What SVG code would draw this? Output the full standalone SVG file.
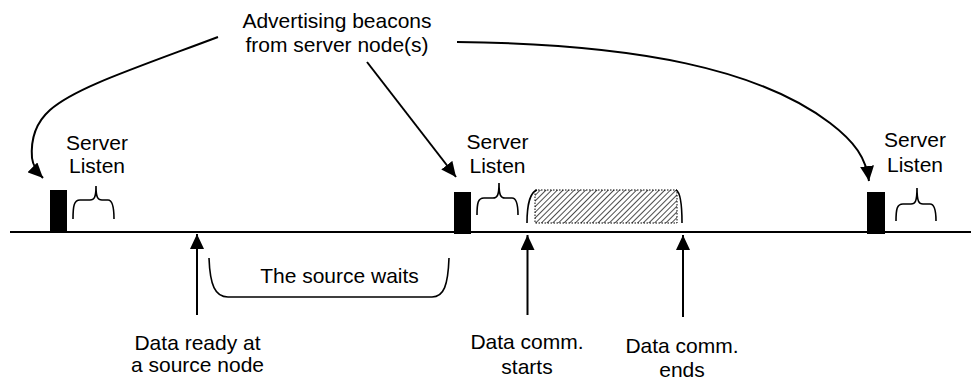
<svg xmlns="http://www.w3.org/2000/svg" width="971" height="380" viewBox="0 0 971 380">
<defs>
<marker id="ah" viewBox="0 0 15 14" refX="15" refY="7" markerWidth="15" markerHeight="14" markerUnits="userSpaceOnUse" orient="auto">
<path d="M0,0 L15,7 L0,14 Z" fill="#000"/>
</marker>
<pattern id="hatch" width="4" height="4" patternUnits="userSpaceOnUse" patternTransform="rotate(45)">
<line x1="0" y1="-1" x2="0" y2="5" stroke="#000" stroke-width="1.4"/>
</pattern>
</defs>
<style>
text{font-family:"Liberation Sans",Arial,sans-serif;font-size:21px;fill:#000;text-anchor:middle}
.conn{fill:none;stroke:#000;stroke-width:2}
.brace{fill:none;stroke:#000;stroke-width:1.6}
.block{fill:#000}
</style>
<rect width="971" height="380" fill="#fff"/>
<g id="timeline"><line x1="10" y1="232" x2="971" y2="232" stroke="#000" stroke-width="2.2"/></g>
<g id="beacon-label"><text x="337" y="28">Advertising beacons</text><text x="337" y="52">from server node(s)</text></g>
<g id="server1">
<rect class="block" x="50" y="190" width="17" height="42"/>
<path class="brace" d="M73,219 C73,206 74,200 80,200 L90,200 C94,200 96,198 96,186 C96,198 98,200 102,200 L108,200 C112,200 114,206 114,219"/>
<text x="97" y="150">Server</text><text x="97" y="173">Listen</text>
</g>
<g id="server2">
<rect class="block" x="454" y="192" width="17" height="42"/>
<path class="brace" d="M477,215 C477,203 478,198 484,198 L493,198 C497,198 499,196 499,183 C499,196 501,198 505,198 L512,198 C516,198 518,203 518,215"/>
<text x="497.5" y="149">Server</text><text x="497.5" y="173">Listen</text>
</g>
<g id="server3">
<rect class="block" x="867" y="192" width="18" height="42"/>
<path class="brace" d="M896,221 C896,209 897,204 903,204 L911,204 C915,204 917,202 917,188 C917,202 919,204 923,204 L930,204 C934,204 936,209 936,221"/>
<text x="915" y="147">Server</text><text x="915" y="172">Listen</text>
</g>
<g id="data-comm">
<rect x="535" y="190" width="142" height="33" fill="url(#hatch)" stroke="#000" stroke-width="1" stroke-dasharray="1.5,1.5"/>
<path class="brace" d="M527,223 C527,206 530,192 537,190"/>
<path class="brace" d="M676,190 C680,192 682,206 682,223"/>
</g>
<g id="wait">
<path class="brace" d="M209,258 C210,285 215,297 228,297 L432,297 C444,297 448,285 449,258"/>
<text x="339.5" y="283">The source waits</text>
</g>
<g id="label-ready"><text x="197.5" y="350">Data ready at</text><text x="197.5" y="372">a source node</text></g>
<g id="label-starts"><text x="527" y="349">Data comm.</text><text x="527" y="374">starts</text></g>
<g id="label-ends"><text x="682" y="353">Data comm.</text><text x="682" y="377">ends</text></g>
<g id="connectors">
<path class="conn" d="M218,37 C130,70 75,88 50,110 C32,126 31,145 32,158 C33,166 37,172 43,178" marker-end="url(#ah)"/>
<path class="conn" d="M367,62 L456,177" marker-end="url(#ah)"/>
<path class="conn" d="M457,42 C640,44 760,70 830,123 C855,142 866,158 869,181" marker-end="url(#ah)"/>
<path class="conn" d="M197,315 L197,234" marker-end="url(#ah)"/>
<path class="conn" d="M527.5,315 L527.5,235" marker-end="url(#ah)"/>
<path class="conn" d="M683,317 L683,235" marker-end="url(#ah)"/>
</g>
</svg>
